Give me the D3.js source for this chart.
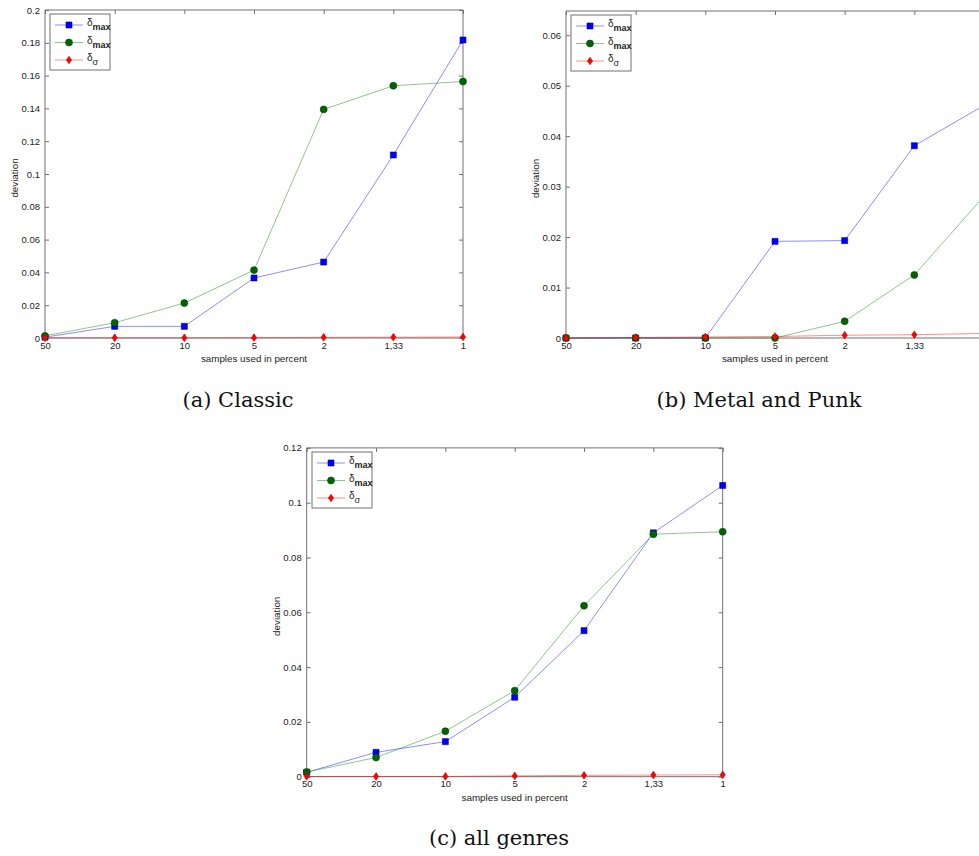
<!DOCTYPE html>
<html><head><meta charset="utf-8">
<script src="https://cdn.jsdelivr.net/npm/d3@7"></script>
<style>body{margin:0;background:#fff}svg{display:block}</style>
</head><body>
<script>
// ---- data ----
const categories = ["50","20","10","5","2","1,33","1"];
const classicMaxBlue  = [0.0005, 0.0071, 0.0071, 0.0366, 0.0463, 0.1116, 0.1817];
const classicMaxGreen = [0.0013, 0.0093, 0.0213, 0.0414, 0.1394, 0.1538, 0.1564];
const classicSigma    = [0.0001, 0.0001, 0.0001, 0.0002, 0.0004, 0.0005, 0.0006];
const metalMaxBlue    = [0.0000, 0.0000, 0.0000, 0.01915, 0.0193, 0.0381, 0.0461];
const metalMaxGreen   = [0.0000, 0.0000, 0.0000, 0.0000, 0.0033, 0.0125, 0.0281];
const metalSigma      = [0.0000, 0.0001, 0.0002, 0.0003, 0.00055, 0.00065, 0.0009];
const allMaxBlue      = [0.0016, 0.0089, 0.0128, 0.0290, 0.0533, 0.0890, 0.1063];
const allMaxGreen     = [0.0017, 0.0070, 0.0166, 0.0314, 0.0624, 0.0885, 0.0894];
const allSigma        = [0.0001, 0.0001, 0.0001, 0.0003, 0.0005, 0.0006, 0.0007];
const classicTicks = [0,0.02,0.04,0.06,0.08,0.1,0.12,0.14,0.16,0.18,0.2];
const metalTicks   = [0,0.01,0.02,0.03,0.04,0.05,0.06];
const allTicks     = [0,0.02,0.04,0.06,0.08,0.1,0.12];
const legendSubs = ["max","max","σ"];
const xLabel = "samples used in percent";
const yLabel = "deviation";
const titles = ["(a) Classic","(b) Metal and Punk","(c) all genres"];

const W = 979, H = 856;
const svg = d3.select("body").append("svg").attr("width", W).attr("height", H)
  .style("font-family", "Arial, 'Liberation Sans', sans-serif");
svg.append("rect").attr("width", W).attr("height", H).attr("fill", "#fff");

const seriesStyle = [
  {line:"#0000ff", fill:"#0000ff", stroke:"#00008b", shape:"square"},
  {line:"#008000", fill:"#006400", stroke:"#004000", shape:"circle"},
  {line:"#ff0000", fill:"#ff0000", stroke:"#cc0000", shape:"diamond"}
];
function symbolPath(shape){
  if(shape==="square") return "M-3,-3H3V3H-3Z";
  if(shape==="circle") return d3.symbol().type(d3.symbolCircle).size(38)();
  return "M0,-3.8L2.6,0L0,3.8L-2.6,0Z";
}

function panel(p){
  const g = svg.append("g");
  const x = d3.scalePoint().domain(categories).range([p.x0, p.x1]);
  const y = d3.scaleLinear().domain([0, p.ymax]).range([p.y0, p.y1]);
  const axisColor = "#707070";
  g.append("path").attr("d", `M${p.x0},${p.y0}V${p.y1}H${p.x1}V${p.y0}Z`)
    .attr("fill","none").attr("stroke",axisColor).attr("stroke-width",1);
  const yl = g.append("g").attr("transform",`translate(${p.x0},0)`)
    .call(d3.axisLeft(y).tickValues(p.ticks).tickSize(-4).tickPadding(5).tickFormat(d=>String(+d.toFixed(2))));
  yl.select(".domain").remove();
  yl.selectAll("line").attr("stroke",axisColor);
  yl.selectAll("text").attr("font-size",9.5).attr("fill","#222");
  const yr = g.append("g").attr("transform",`translate(${p.x1},0)`)
    .call(d3.axisRight(y).tickValues(p.ticks).tickSize(-4).tickFormat(""));
  yr.select(".domain").remove(); yr.selectAll("line").attr("stroke",axisColor);
  const xb = g.append("g").attr("transform",`translate(0,${p.y0})`)
    .call(d3.axisBottom(x).tickSize(-4).tickPadding(4));
  xb.select(".domain").remove(); xb.selectAll("line").attr("stroke",axisColor);
  xb.selectAll("text").attr("font-size",9.5).attr("fill","#222");
  // labels falling outside the page are not visible in the reference
  xb.selectAll(".tick").filter(d => x(d) > W - 4).remove();
  const xt = g.append("g").attr("transform",`translate(0,${p.y1})`)
    .call(d3.axisTop(x).tickSize(-4).tickFormat(""));
  xt.select(".domain").remove(); xt.selectAll("line").attr("stroke",axisColor);
  g.append("text").attr("x",(p.x0+p.x1)/2).attr("y",p.y0+24).attr("text-anchor","middle")
    .attr("font-size",9.8).attr("fill","#222").text(xLabel);
  g.append("text").attr("transform",`translate(${p.x0-27},${(p.y0+p.y1)/2+4}) rotate(-90)`)
    .attr("text-anchor","middle").attr("font-size",9.8).attr("fill","#222").text(yLabel);
  const line = d3.line().x((d,i)=>x(categories[i])).y(d=>y(d));
  p.series.forEach((vals,k)=>{
    const s = seriesStyle[k];
    g.append("path").attr("d", line(vals)).attr("fill","none")
      .attr("stroke", s.line).attr("stroke-opacity",0.45).attr("stroke-width",1);
    g.selectAll(null).data(vals).enter().append("path")
      .attr("transform",(d,i)=>`translate(${x(categories[i])},${y(d)})`)
      .attr("d", symbolPath(s.shape)).attr("fill", s.fill)
      .attr("stroke", s.stroke).attr("stroke-width",0.6);
  });
  const lg = g.append("g");
  lg.append("rect").attr("x",p.lx).attr("y",p.ly).attr("width",60).attr("height",56)
    .attr("fill","#fff").attr("stroke","#707070").attr("stroke-width",1);
  legendSubs.forEach((sub,k)=>{
    const s = seriesStyle[k];
    const yy = p.ly + 11 + k*17.5;
    lg.append("line").attr("x1",p.lx+5).attr("x2",p.lx+33).attr("y1",yy).attr("y2",yy)
      .attr("stroke",s.line).attr("stroke-opacity",0.45);
    lg.append("path").attr("transform",`translate(${p.lx+19},${yy})`).attr("d",symbolPath(s.shape))
      .attr("fill",s.fill).attr("stroke",s.stroke).attr("stroke-width",0.6);
    const t = lg.append("text").attr("x",p.lx+37).attr("y",yy+1).attr("font-size",10).attr("fill","#222");
    t.append("tspan").text("δ");
    t.append("tspan").attr("dy",4).attr("font-size",9).attr("font-weight", sub==="max"?"bold":"normal").text(sub);
  });
  svg.append("text").attr("x",p.tx).attr("y",p.ty).attr("text-anchor","middle")
    .attr("font-family","'DejaVu Serif', serif").attr("font-size",21).attr("fill","#111").text(p.title);
}

panel({x0:45, x1:463, y0:338, y1:10, ymax:0.2, ticks:classicTicks,
  series:[classicMaxBlue, classicMaxGreen, classicSigma], lx:50, ly:14, title:titles[0], tx:238, ty:407});
panel({x0:566, x1:984, y0:338, y1:11, ymax:0.0648, ticks:metalTicks,
  series:[metalMaxBlue, metalMaxGreen, metalSigma], lx:571, ly:15, title:titles[1], tx:759, ty:407});
panel({x0:306.7, x1:722.7, y0:776.7, y1:447.9, ymax:0.12, ticks:allTicks,
  series:[allMaxBlue, allMaxGreen, allSigma], lx:312, ly:452, title:titles[2], tx:499, ty:845});
</script>
</body></html>
